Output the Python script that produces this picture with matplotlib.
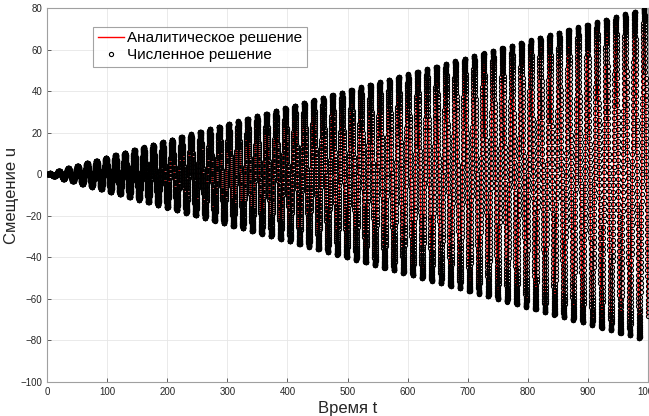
"""
Резонанс: аналитическое и численное решение u(t)
"""

import numpy as np
import matplotlib.pyplot as plt

plt.rcParams['font.family'] = ['Liberation Sans', 'DejaVu Sans']

# параметры
T_END = 1000.0      # конец интервала
DT = 0.1            # шаг численного решения
OMEGA = 0.40        # частота колебаний (период ~15.7)
GROWTH = 0.08       # рост амплитуды: 80 при t = 1000

X_TICKS = [0, 100, 200, 300, 400, 500, 600, 700, 800, 900, 1000]
Y_TICKS = [-100, -80, -60, -40, -20, 0, 20, 40, 60, 80]

t = np.arange(0, T_END + DT / 2, DT)
u_exact = GROWTH * t * np.sin(OMEGA * t)
u_num = u_exact.copy()


def main():
    fig = plt.figure(figsize=(6.49, 4.16), dpi=100)
    ax = fig.add_axes([47 / 649, 1 - 382 / 416, 601 / 649, 374 / 416])

    ax.plot(t, u_exact, color='red', linewidth=1.0, label='Аналитическое решение', zorder=2)
    ax.plot(t, u_num, linestyle='none', marker='o', markersize=3.0, markeredgewidth=0.8,
            markeredgecolor='black', markerfacecolor='none', label='Численное решение', zorder=3)

    ax.set_xlim(0, 1000)
    ax.set_ylim(-100, 80)
    ax.set_xticks(X_TICKS)
    ax.set_yticks(Y_TICKS)
    ax.tick_params(direction='in', labelsize=7, colors='#262626', length=3, width=0.5)
    ax.grid(True, color='#e6e6e6', linewidth=0.6)
    ax.set_axisbelow(True)
    for sp in ax.spines.values():
        sp.set_color('#a0a0a0')
        sp.set_linewidth(0.8)

    ax.set_xlabel('Время t', fontsize=12, color='#262626', labelpad=3)
    ax.set_ylabel('Смещение u', fontsize=12, color='#262626', labelpad=1)

    leg = ax.legend(loc='upper left', bbox_to_anchor=(0.077, 0.95), fontsize=11,
                    frameon=True, fancybox=False, edgecolor='#8c8c8c', handlelength=1.7,
                    borderpad=0.3, labelspacing=0.2, handletextpad=0.2, borderaxespad=0)
    leg.get_frame().set_linewidth(0.8)

    plt.savefig('out.png', dpi=100)
    plt.close()


if __name__ == '__main__':
    main()
